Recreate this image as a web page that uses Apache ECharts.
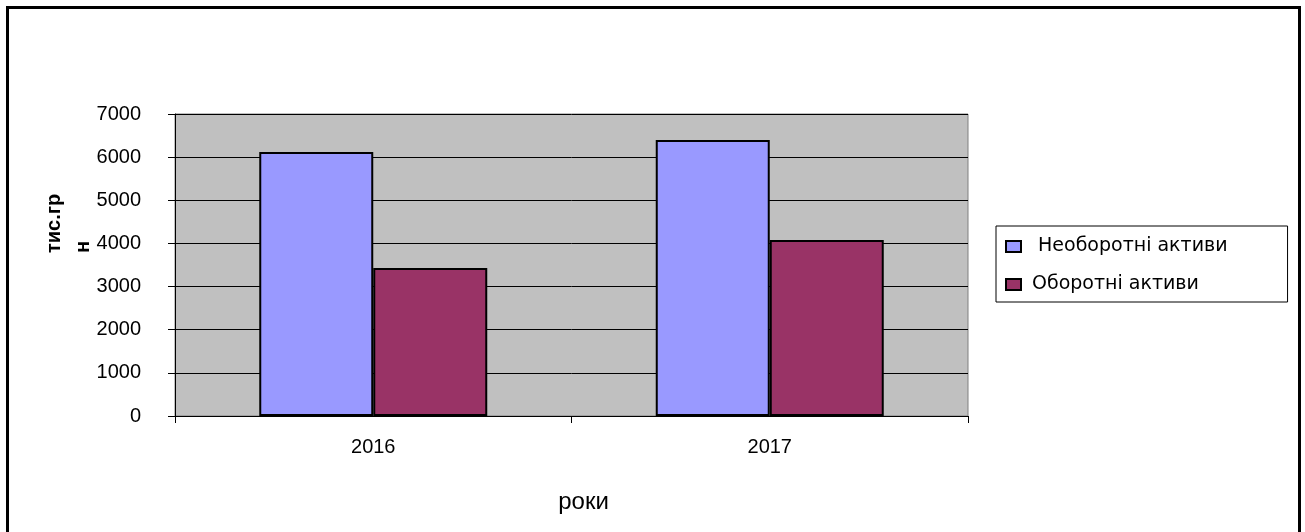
<!DOCTYPE html>
<html>
<head>
<meta charset="utf-8">
<title>Активи підприємства, тис. грн</title>
<script src="https://cdn.jsdelivr.net/npm/echarts@6/dist/echarts.min.js"></script>
<style>
  html, body { margin: 0; padding: 0; background: #ffffff; }
  #chart { width: 1305px; height: 532px; }
</style>
</head>
<body>
<div id="chart"></div>
<script>
// Years on the category axis
const categories = ['2016', '2017'];
// Asset values, thousand UAH
const nonCurrentAssets = [6120, 6400];
const currentAssets = [3430, 4080];
// Series names as shown in the legend
const seriesNames = [' Необоротні активи', 'Оборотні активи'];
// Value axis range and step
const yMin = 0;
const yMax = 7000;
const yStep = 1000;

const FONT = '"Liberation Sans", Arial, sans-serif';
const LEGEND_FONT = '"DejaVu Sans", "Liberation Sans", sans-serif';

const chart = echarts.init(document.getElementById('chart'), null, { renderer: 'canvas' });

chart.setOption({
  animation: false,
  backgroundColor: '#ffffff',
  textStyle: { fontFamily: FONT, color: '#000000' },
  grid: {
    left: 175,
    right: 337,
    top: 114,
    bottom: 116,
    show: true,
    backgroundColor: '#c0c0c0',
    borderColor: '#808080',
    borderWidth: 1
  },
  legend: {
    orient: 'vertical',
    left: 996,
    top: 226,
    padding: [11, 60, 8, 9],
    itemGap: 19,
    itemWidth: 15,
    itemHeight: 11,
    borderColor: '#000000',
    borderWidth: 1,
    backgroundColor: '#ffffff',
    icon: 'rect',
    data: seriesNames,
    textStyle: {
      fontFamily: LEGEND_FONT,
      fontSize: 19,
      color: '#000000',
      padding: [0, 0, 0, 6]
    }
  },
  xAxis: {
    type: 'category',
    data: categories,
    boundaryGap: true,
    name: 'роки',
    nameLocation: 'middle',
    nameGap: 74,
    nameTextStyle: {
      fontFamily: FONT,
      fontSize: 24,
      color: '#000000',
      padding: [0, 0, 0, 24]
    },
    axisLine: { show: true, lineStyle: { color: '#000000', width: 1 } },
    axisTick: { show: true, inside: false, length: 7, lineStyle: { color: '#000000' } },
    axisLabel: { margin: 21, fontSize: 20, fontFamily: FONT, color: '#000000' },
    splitLine: { show: false }
  },
  yAxis: {
    type: 'value',
    min: yMin,
    max: yMax,
    interval: yStep,
    axisLine: { show: true, lineStyle: { color: '#000000', width: 1 } },
    axisTick: { show: true, inside: false, length: 7, lineStyle: { color: '#000000' } },
    axisLabel: {
      margin: 34,
      fontSize: 20,
      fontFamily: FONT,
      color: '#000000',
      formatter: (v) => String(v)
    },
    splitLine: { show: true, lineStyle: { color: '#000000', width: 1 } }
  },
  series: [
    {
      name: seriesNames[0],
      type: 'bar',
      data: nonCurrentAssets,
      barWidth: 114,
      barGap: '0%',
      itemStyle: { color: '#9999ff', borderColor: '#000000', borderWidth: 2 }
    },
    {
      name: seriesNames[1],
      type: 'bar',
      data: currentAssets,
      barWidth: 114,
      barGap: '0%',
      itemStyle: { color: '#993366', borderColor: '#000000', borderWidth: 2 }
    }
  ],
  graphic: [
    {
      // outer chart frame
      type: 'rect',
      silent: true,
      z: 100,
      shape: { x: 7.5, y: 7.5, width: 1292, height: 560 },
      style: { fill: 'none', stroke: '#000000', lineWidth: 3 }
    },
    {
      // value axis title, wrapped onto two lines
      type: 'text',
      silent: true,
      x: 69,
      y: 253,
      rotation: Math.PI / 2,
      style: {
        text: 'тис.гр\nн',
        fontFamily: FONT,
        fontSize: 20,
        fontWeight: 'bold',
        lineHeight: 29,
        align: 'left',
        verticalAlign: 'middle',
        fill: '#000000'
      }
    }
  ]
});
</script>
</body>
</html>
